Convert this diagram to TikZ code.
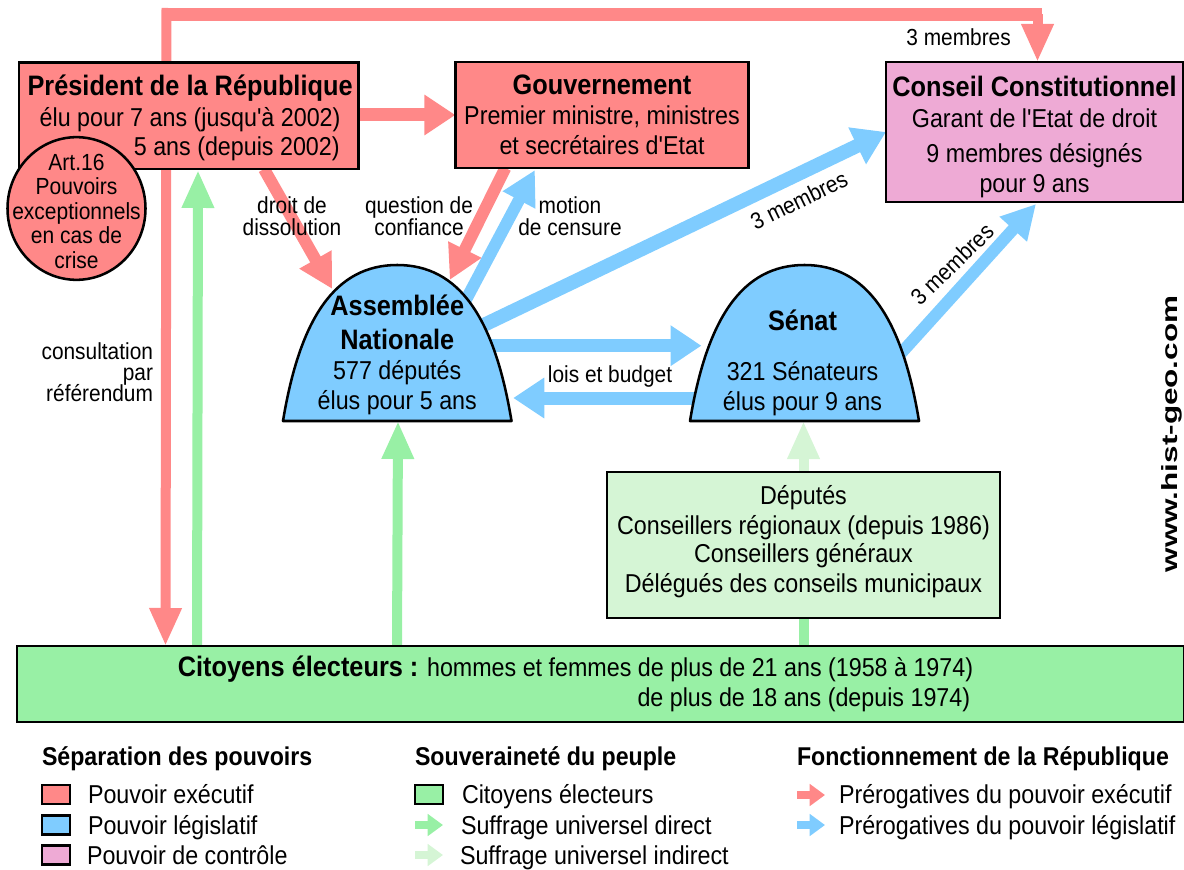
\documentclass[tikz,border=0pt]{standalone}
\usepackage{fontspec}
\setmainfont[FakeStretch=0.9,Ligatures=TeXOff]{Liberation Sans}
\newfontfamily\wwwfont[FakeStretch=1.43]{Liberation Sans}
\usetikzlibrary{arrows.meta,calc,shapes.geometric}
\pgfdeclarelayer{arrowlayer}
\pgfdeclarelayer{domelayer}
\pgfsetlayers{arrowlayer,domelayer,main}
\definecolor{cred}{HTML}{FF8888}
\definecolor{cblue}{HTML}{7FCCFF}
\definecolor{cpink}{HTML}{EEAAD5}
\definecolor{cgreen}{HTML}{98F0A5}
\definecolor{clight}{HTML}{D5F5D5}
\lineskiplimit=-100pt
\newcommand\bodyf{\fontsize{19.4}{22}\selectfont}
\newcommand\smallf{\fontsize{17.4}{16.5}\selectfont}
\newcommand\artf{\fontsize{17.5}{18.3}\selectfont}
\newcommand\titlef{\fontsize{21.1}{22}\selectfont\bfseries}
\newcommand\legf{\fontsize{19.3}{22}\selectfont\bfseries}
\newcommand\urlf{\fontsize{16.5}{18}\wwwfont\bfseries}
\newcommand\lh[1]{\rule{0pt}{#1}}
\newcommand\ld[1]{\rule[-#1]{0pt}{#1}}
\tikzset{
  box/.style={draw=black,line width=1.9pt,rectangle,inner sep=0pt,outer sep=0pt,align=center,font=\bodyf},
  domebox/.style={rectangle,inner sep=0pt,outer sep=0pt,align=center,font=\bodyf},
  dome/.style={draw=black,line width=1.9pt,fill=cblue,line join=round},
  lab/.style={inner sep=0pt,outer sep=0pt,align=center,font=\smallf},
  legt/.style={inner sep=0pt,outer sep=0pt,anchor=base west,font=\bodyf},
  legh/.style={inner sep=0pt,outer sep=0pt,anchor=base west,font=\legf},
  legsq/.style={draw=black,line width=1.9pt,rectangle,inner sep=0pt,outer sep=0pt,minimum width=21pt,minimum height=14pt},
  vert/.style={line width=7.5pt,-{Triangle[length=28.5pt,width=22.5pt]}},
  horiz/.style={line width=9.75pt,-{Triangle[length=23.25pt,width=29pt]}},
  diag/.style={line width=9pt,-{Triangle[length=25.5pt,width=26pt]}},
  wide/.style={line width=10.5pt,-{Triangle[length=24pt,width=29pt]}},
  legarrow/.style={line width=5.5pt,-{Triangle[length=11.5pt,width=16pt]}},
}
\begin{document}
\begin{tikzpicture}[x=0.75pt,y=-0.75pt]
\useasboundingbox (0,0) rectangle (1184,870);

% boxes
\node[box,fill=cred,minimum width=254.6pt,minimum height=79.7pt] (pres) at (188.75,115.85)
 {\hspace*{2pt}{\titlef\lh{21.2pt}Président de la République}\\[1pt]
  \hspace*{2pt}élu pour 7 ans (jusqu'à 2002)\\
  \hspace*{72pt}5 ans (depuis 2002)\ld{6pt}};
\node[box,fill=cred,minimum width=220pt,minimum height=79.5pt] (gouv) at (602,115)
 {{\titlef\lh{21pt}Gouvernement}\\[.5pt]
  Premier ministre, ministres\\[.5pt]
  et secrétaires d'Etat\ld{6pt}};
\node[box,fill=cpink,minimum width=222.75pt,minimum height=105pt] (cons) at (1034.5,132)
 {{\titlef\lh{24pt}Conseil Constitutionnel}\\[1.25pt]
  Garant de l'Etat de droit\\[4.25pt]
  9 membres désignés\\[.5pt]
  pour 9 ans\ld{6pt}};
\node[box,fill=clight,minimum width=294.75pt,minimum height=109.5pt] (dep) at (803.5,545)
 {\lh{19.5pt}Députés\\[.5pt]
  Conseillers régionaux (depuis 1986)\\[-1pt]
  Conseillers généraux\\[.5pt]
  Délégués des conseils municipaux\ld{15pt}};
\node[box,fill=cgreen,minimum width=875.25pt,minimum height=57pt,align=right] (cit) at (600.5,684)
 {\lh{17.25pt}{\titlef Citoyens électeurs :} hommes et femmes de plus de 21 ans (1958 à 1974)\rule{37.5pt}{0pt}\\
  de plus de 18 ans (depuis 1974)\rule{39.75pt}{0pt}\ld{6pt}};
\node[draw=black,line width=1.9pt,fill=cred,ellipse,inner sep=0pt,outer sep=0pt,minimum width=103.5pt,minimum height=107pt] (art) at (76.5,208.5) {};
\node[lab,font=\artf] (arttext) at (art.center)
 {\lh{22.3pt}Art.16\\Pouvoirs\\exceptionnels\\en cas de\\crise\ld{6pt}};

% domes
\node[domebox,minimum width=171.4pt,minimum height=117pt] (an) at (397.25,343)
 {{\titlef\lh{35.25pt}Assemblée}\\[3.5pt]
  {\titlef Nationale}\\[.94pt]
  577 députés\\[.5pt]
  élus pour 5 ans\ld{6pt}};
\node[domebox,minimum width=171.75pt,minimum height=117pt] (sen) at (804.5,343)
 {{\titlef\lh{46.5pt}Sénat}\rule{3pt}{0pt}\\[15.5pt]
  321 Sénateurs\rule{3pt}{0pt}\\[.5pt]
  élus pour 9 ans\rule{3pt}{0pt}\ld{6pt}};
\begin{pgfonlayer}{domelayer}
\draw[dome] (an.south west) .. controls ($(an.south west)+(17,-103)$) and ($(an.north)+(-62,0)$) .. (an.north)
  .. controls ($(an.north)+(62,0)$) and ($(an.south east)+(-17,-103)$) .. (an.south east) -- cycle;
\draw[dome] (sen.south west) .. controls ($(sen.south west)+(17,-103)$) and ($(sen.north)+(-62,0)$) .. (sen.north)
  .. controls ($(sen.north)+(62,0)$) and ($(sen.south east)+(-17,-103)$) .. (sen.south east) -- cycle;
\end{pgfonlayer}

% free ends of the top line
\coordinate (tl) at (161.5,14.5);
\coordinate (tr) at (1042,14.5);
\coordinate (tlv) at (166.5,8);
\coordinate (trv) at (1037.5,14.5);

% connectors
\begin{pgfonlayer}{arrowlayer}
\draw[cred,line width=9.75pt] (tl) -- (tr);
\draw[cred,vert] (tlv) -- ($(cit.north west)+(148.5,0)$);
\draw[cred,vert] (trv) -- ($(cons.north)+(3,0)$);
\draw[cred,horiz] (pres.east |- gouv.west) -- (gouv.west);
\draw[cred,diag] ($(pres.south west)+(245,0)$) -- ($(an.center)+(-65,-54)$);
\draw[cred,diag] ($(gouv.south west)+(50,0)$) -- ($(an.center)+(52.5,-63)$);
\draw[cblue,diag] ($(an.center)+(59,-25)$) -- ($(gouv.south west)+(79.6,2)$);
\draw[cblue,wide] ($(an.center)+(74,-12)$) -- (cons.west);
\draw[cblue,horiz] ($(an.center)+(90,2.7)$) -- ($(sen.center)+(-103,2.7)$);
\draw[cblue,horiz] ($(sen.center)+(-100,55)$) -- ($(an.center)+(116,55)$);
\draw[cblue,diag] ($(sen.center)+(89.5,18)$) -- ($(cons.south)+(1.5,2)$);
\draw[cgreen,vert] ($(cit.north west)+(180,0)$) -- ($(pres.south west)+(179,1)$);
\draw[cgreen,vert] ($(cit.north west)+(380,0)$) -- ($(an.south)+(.75,0)$);
\draw[cgreen,line width=7.5pt] (dep.south) -- (dep.south |- cit.north);
\draw[clight,vert] (dep.north) -- (dep.north |- sen.south);
\end{pgfonlayer}

% labels
\node[lab] (l1) at (292,216.5) {droit de\\dissolution};
\node[lab] (l2) at (419,216.5) {question de\\confiance};
\node[lab] (l3) at (570,216.5) {motion\\de censure};
\node[lab,align=right,anchor=north east] (l4) at (153,343) {consultation\\[-.75pt]par\\[-.75pt]référendum};
\node[lab,anchor=base] (l5) at (610,382.7) {lois et budget};
\node[lab,anchor=base] (l6) at (958.6,46) {3 membres};
\node[lab,rotate=26] (l7) at (799,200) {3 membres};
\node[lab,rotate=44] (l8) at (952,264) {3 membres};
\node[inner sep=0pt,rotate=90,font=\urlf] (www) at (1172,434) {www.hist-geo.com};

% legend
\node[legh] (h1) at (42,765) {Séparation des pouvoirs};
\node[legh] (h2) at (415,765) {Souveraineté du peuple};
\node[legh] (h3) at (797,765) {Fonctionnement de la République};
\node[legsq,fill=cred] (s1) at (56,794.5) {};
\node[legsq,fill=cblue] (s2) at (56,825) {};
\node[legsq,fill=cpink] (s3) at (56,855) {};
\node[legsq,fill=cgreen] (s4) at (429,794.5) {};
\node[legt] (t1) at (88,803) {Pouvoir exécutif};
\node[legt] (t2) at (88,834) {Pouvoir législatif};
\node[legt] (t3) at (87,864) {Pouvoir de contrôle};
\node[legt] (t4) at (462,803) {Citoyens électeurs};
\node[legt] (t5) at (461,834) {Suffrage universel direct};
\node[legt] (t6) at (460,864) {Suffrage universel indirect};
\node[legt] (t7) at (839,803) {Prérogatives du pouvoir exécutif};
\node[legt] (t8) at (839,834) {Prérogatives du pouvoir législatif};
\coordinate (a1) at (415,825); \coordinate (a1e) at (443,825);
\coordinate (a2) at (415,855); \coordinate (a2e) at (443,855);
\coordinate (a3) at (797,795); \coordinate (a3e) at (825,795);
\coordinate (a4) at (797,825); \coordinate (a4e) at (825,825);
\draw[cgreen,legarrow] (a1) -- (a1e);
\draw[clight,legarrow] (a2) -- (a2e);
\draw[cred,legarrow] (a3) -- (a3e);
\draw[cblue,legarrow] (a4) -- (a4e);
\end{tikzpicture}
\end{document}
